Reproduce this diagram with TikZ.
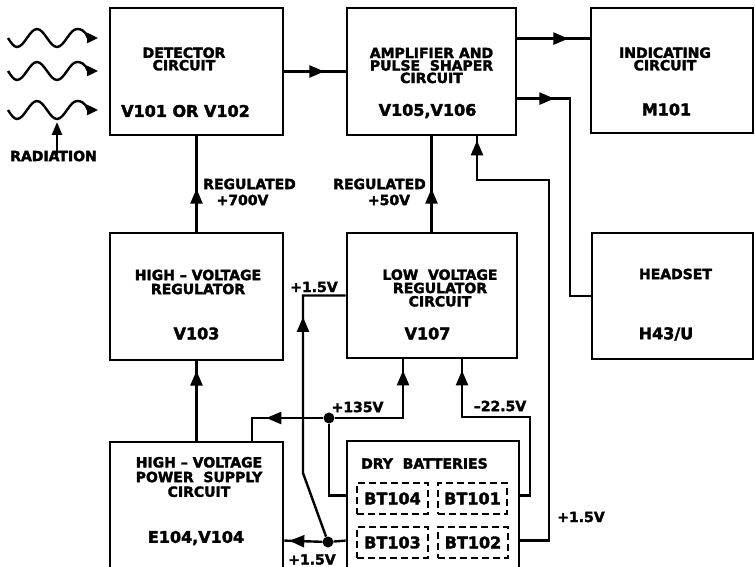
\documentclass[tikz,border=0pt]{standalone}
\usepackage{fontspec}
\setmainfont{DejaVu Sans}[BoldFeatures={FakeBold=2.2}]
\usetikzlibrary{arrows.meta,decorations.markings,calc}
\begin{document}
\begin{tikzpicture}[x=1pt,y=-1pt,
  >={Triangle[length=15pt,width=12pt]},
  box/.style={draw, line width=2.8pt, inner sep=0pt},
  dbox/.style={draw, dash pattern=on 7pt off 4pt, line width=2pt, minimum width=71pt, minimum height=31pt, inner sep=0pt, font=\fontsize{16}{16}\selectfont\bfseries},
  conn/.style={line width=2.4pt},
  ttl/.style={font=\fontsize{14}{12.5}\selectfont\bfseries, align=center, inner sep=0pt},
  prt/.style={font=\fontsize{16}{16}\selectfont\bfseries, inner sep=0pt},
  lbl/.style={font=\fontsize{14}{14}\selectfont\bfseries, inner sep=0pt},
  dot/.style={circle, fill, inner sep=0pt, minimum size=11pt},
  arrowat/.style={postaction={decorate}, decoration={markings, mark=at position #1 with {\arrow{>}}}}
]
\useasboundingbox (0,0) rectangle (755,567);
\clip (0,0) rectangle (755,567);
\fill[white] (0,0) rectangle (755,567);

% blocks
\node[box, minimum width=173pt, minimum height=127pt] (det) at (196.5,71.5) {};
\node[box, minimum width=169pt, minimum height=127pt] (amp) at (431.5,71.5) {};
\node[box, minimum width=162pt, minimum height=125pt] (ind) at (672,70.5) {};
\node[box, minimum width=173pt, minimum height=127pt] (hvr) at (196.5,296.5) {};
\node[box, minimum width=170pt, minimum height=125pt] (lvr) at (432,295.5) {};
\node[box, minimum width=161pt, minimum height=126pt] (hs) at (672.5,296) {};
\node[box, minimum width=173pt, minimum height=130pt] (hvps) at (196.5,507) {};
\node[box, minimum width=172pt, minimum height=131pt] (bat) at (433,506.5) {};

% texts in blocks
\node[ttl] (detT) at (184,59) {DETECTOR\\CIRCUIT};
\node[prt] (detP) at (185.5,111) {V101 OR V102};
\node[ttl] (ampT) at (431.5,65.5) {AMPLIFIER AND\\PULSE\ \ SHAPER\\CIRCUIT};
\node[prt] (ampP) at (427.5,111) {V105,V106};
\node[ttl] (indT) at (665,59) {INDICATING\\CIRCUIT};
\node[prt] (indP) at (666.5,109.5) {M101};
\node[ttl, font=\fontsize{14}{14}\selectfont\bfseries] (hvrT) at (198,282) {HIGH – VOLTAGE\\REGULATOR};
\node[prt] (hvrP) at (196.5,333.5) {V103};
\node[ttl, font=\fontsize{14}{13.3}\selectfont\bfseries] (lvrT) at (440,288) {LOW\ \ VOLTAGE\\REGULATOR\\CIRCUIT};
\node[prt] (lvrP) at (427.5,333.5) {V107};
\node[ttl] (hsT) at (675.5,274) {HEADSET};
\node[prt] (hsP) at (666,334) {H43/U};
\node[ttl, font=\fontsize{14}{14.7}\selectfont\bfseries] (hvpsT) at (199,477) {HIGH – VOLTAGE\\POWER\ \ SUPPLY\\CIRCUIT};
\node[prt] (hvpsP) at (196,538) {E104,V104};
\node[lbl, anchor=west] (batT) at (361,463.5) {DRY\ \ BATTERIES};

% batteries
\node[dbox] (bt104) at (392.5,498.5) {BT104};
\node[dbox, minimum width=69pt] (bt101) at (472.5,498.5) {BT101};
\node[dbox] (bt103) at (392.5,542.5) {BT103};
\node[dbox, minimum width=70pt] (bt102) at (473,542.5) {BT102};

% labels
\node[lbl] (l700a) at (249.5,184) {REGULATED};
\node[lbl] (l700b) at (242.5,200) {+700V};
\node[lbl] (l50a) at (379.5,184) {REGULATED};
\node[lbl] (l50b) at (389,200) {+50V};
\node[lbl] (l15a) at (314,287) {+1.5V};
\node[lbl] (l135) at (357.5,407) {+135V};
\node[lbl] (l225) at (500,406) {–22.5V};
\node[lbl] (l15b) at (312,559.5) {+1.5V};
\node[lbl] (l15c) at (581,517) {+1.5V};
\node[lbl] (rad) at (53.5,156) {RADIATION};

% radiation waves
\foreach \m in {38,71,110} {
  \draw[conn, -{Triangle[length=11pt,width=10pt]}] (8,\m) sin (17,\m+9) cos (27,\m) sin (37,\m-9) cos (47,\m) sin (57,\m+9) cos (67,\m) sin (77,\m-9) .. controls (86,\m-9) and (88,\m) .. (98,\m);
}
\coordinate (radtip) at (57,122);
\draw[conn, -{Triangle[length=13pt,width=10pt]}] ([yshift=-4pt]rad.north -| radtip) -- (radtip);

% junction dots
\node[dot] (dot1) at (329,418) {};
\node[dot] (dot2) at (328,542) {};

% coordinates
\coordinate (ampo1) at ([yshift=-32pt]amp.north east);
\coordinate (ampo2) at ([yshift=-92pt]amp.north east);
\coordinate (hsbend) at (570,296);
\coordinate (ampin) at ([xshift=45.5pt]amp.south);
\coordinate (fbA) at (549,180);
\coordinate (b2r) at ([yshift=-101pt]bat.north east);
\coordinate (b1r) at ([yshift=-56pt]bat.north east);
\coordinate (b4l) at ([yshift=-56pt]bat.north west);
\coordinate (b3l) at ([yshift=-101pt]bat.north west);
\coordinate (hvpsin) at ([xshift=55.5pt]hvps.north);
\coordinate (hvpsr) at ([yshift=-100pt]hvps.north east);
\coordinate (lvrin1) at ([xshift=-29pt]lvr.south);
\coordinate (lvrin2) at ([xshift=30pt]lvr.south);
\coordinate (m1) at (530,417);
\coordinate (sl) at (303,473);

% connectors
\draw[conn, arrowat=40pt] (det.east) -- (amp.west);
\draw[conn, arrowat=51pt] (ampo1) -- (ampo1 -| ind.west);
\draw[conn, arrowat=37pt] (ampo2) -| (hsbend) -- (hs.west);
\draw[conn, arrowat=43pt] (hvr.north) -- (det.south);
\draw[conn, arrowat=43pt] (amp.south |- lvr.north) -- (amp.south);
\draw[conn, arrowat=-4pt] (b2r) -| (fbA) -| (ampin);
\draw[conn, arrowat=70pt] (hvps.north) -- (hvr.south);
\draw[conn] (b4l) -| (dot1);
\draw[conn, arrowat=57pt] (dot1) -| (hvpsin);
\draw[conn, arrowat=-11pt] (dot1) -| (lvrin1);
\draw[conn, arrowat=-11pt] (b1r) -| (m1) -| (lvrin2);
\draw[conn] (b3l) -- (dot2);
\draw[conn, arrowat=33pt] (dot2) -- (hvpsr);
\draw[conn, arrowat=-64pt] (dot2) -- (sl) |- (lvr.west);
\end{tikzpicture}
\end{document}
